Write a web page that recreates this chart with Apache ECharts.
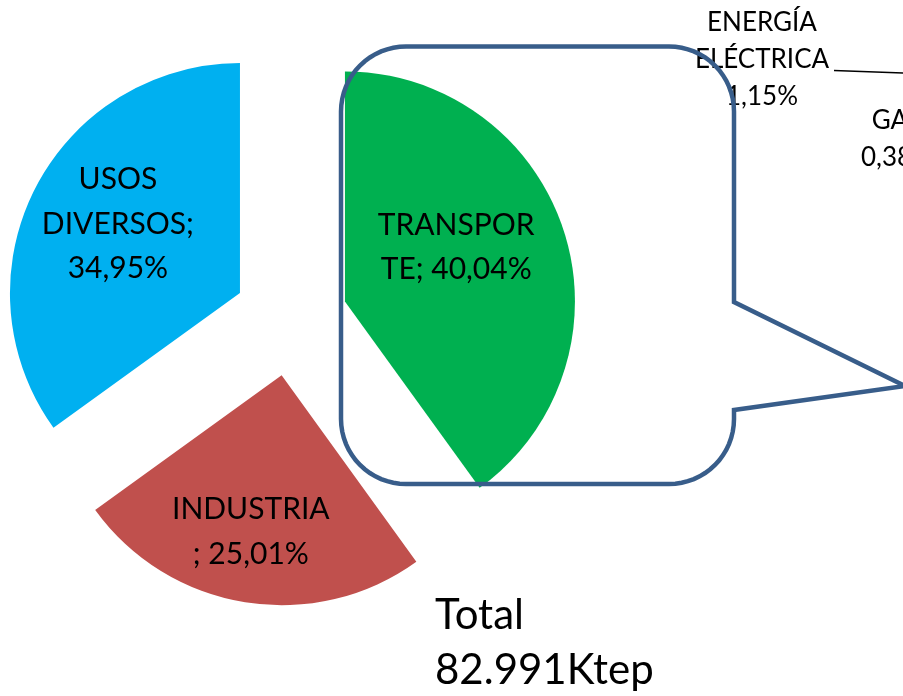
<!DOCTYPE html>
<html>
<head>
<meta charset="utf-8">
<style>
  html, body { margin: 0; padding: 0; background: #ffffff; }
  #chart { width: 903px; height: 696px; }
</style>
<script src="https://cdn.jsdelivr.net/npm/echarts@6/dist/echarts.min.js"></script>
</head>
<body>
<div id="chart"></div>
<script>
// ---- data ----
const categories = ['TRANSPORTE', 'INDUSTRIA', 'USOS DIVERSOS'];
const values = [40.04, 25.01, 34.95];
const colors = ['#00B050', '#C0504D', '#00B0F0'];
const labelTemplates = ['TRANSPOR\nTE; {p}', 'INDUSTRIA\n; {p}', 'USOS\nDIVERSOS;\n{p}'];
const subCategories = ['ENERGÍA\nELÉCTRICA', 'GAS'];
const subValues = [1.15, 0.38];
const totalKtep = 82991;

function pct(v) { return v.toFixed(2).replace('.', ',') + '%'; }
function thousands(n) { return String(n).replace(/\B(?=(\d{3})+(?!\d))/g, '.'); }

const FONT = 'Lato';
const labelNudge = [[-1, -18], [-12, 40], [-17, -15]];

// callout outline (rounded box with a pointer on the right)
function calloutPoints(L, T, R, B, r, p1, tip, p2) {
  const pts = [];
  function arc(cx, cy, a0, a1) {
    const n = 16;
    for (let k = 0; k <= n; k++) {
      const a = a0 + (a1 - a0) * k / n;
      pts.push([cx + r * Math.cos(a), cy + r * Math.sin(a)]);
    }
  }
  arc(L + r, T + r, Math.PI, 1.5 * Math.PI);
  arc(R - r, T + r, 1.5 * Math.PI, 2 * Math.PI);
  pts.push([R, p1]); pts.push(tip); pts.push([R, p2]);
  arc(R - r, B - r, 0, 0.5 * Math.PI);
  arc(L + r, B - r, 0.5 * Math.PI, Math.PI);
  return pts;
}

const chart = echarts.init(document.getElementById('chart'), null, { renderer: 'canvas' });

const pieData = categories.map((c, i) => ({
  name: c,
  value: values[i],
  selected: true,
  itemStyle: { color: colors[i] }
}));

const option = {
  animation: false,
  backgroundColor: '#ffffff',
  series: [{
    type: 'pie',
    center: [290.7, 319],
    radius: 230,
    startAngle: 90,
    clockwise: true,
    selectedMode: 'multiple',
    selectedOffset: 57,
    avoidLabelOverlap: false,
    emphasis: { disabled: true },
    label: {
      show: true,
      position: 'inside',
      color: '#000000',
      fontFamily: FONT,
      fontSize: 30,
      lineHeight: 44.5,
      align: 'center',
      formatter: function (p) {
        return labelTemplates[p.dataIndex].replace('{p}', pct(p.value));
      }
    },
    labelLine: { show: false },
    labelLayout: function (params) {
      const n = labelNudge[params.dataIndex];
      return { dx: n[0], dy: n[1] };
    },
    data: pieData
  }],
  graphic: [
    {
      type: 'polygon',
      z: 100,
      shape: { points: calloutPoints(341, 46.5, 734, 484, 65, 302, [905, 386], 410) },
      style: { fill: 'none', stroke: '#385D8A', lineWidth: 4.5, lineJoin: 'miter' }
    },
    {
      type: 'line',
      z: 90,
      shape: { x1: 834, y1: 70.5, x2: 905, y2: 73 },
      style: { stroke: '#000000', lineWidth: 1.5 }
    },
    {
      type: 'text',
      z: 95,
      x: 762, y: 60,
      style: {
        text: subCategories[0] + '\n' + pct(subValues[0]),
        fontFamily: FONT, fontSize: 26, lineHeight: 37,
        fill: '#000000', align: 'center', verticalAlign: 'middle'
      }
    },
    {
      type: 'text',
      z: 95,
      x: 897, y: 139,
      style: {
        text: subCategories[1] + '\n' + pct(subValues[1]),
        fontFamily: FONT, fontSize: 26, lineHeight: 37,
        fill: '#000000', align: 'center', verticalAlign: 'middle'
      }
    },
    {
      type: 'text',
      z: 95,
      x: 435, y: 643,
      style: {
        text: 'Total\n' + thousands(totalKtep) + 'Ktep',
        fontFamily: FONT, fontSize: 42, lineHeight: 55,
        fill: '#000000', align: 'left', verticalAlign: 'middle'
      }
    }
  ]
};

chart.setOption(option);
</script>
</body>
</html>
